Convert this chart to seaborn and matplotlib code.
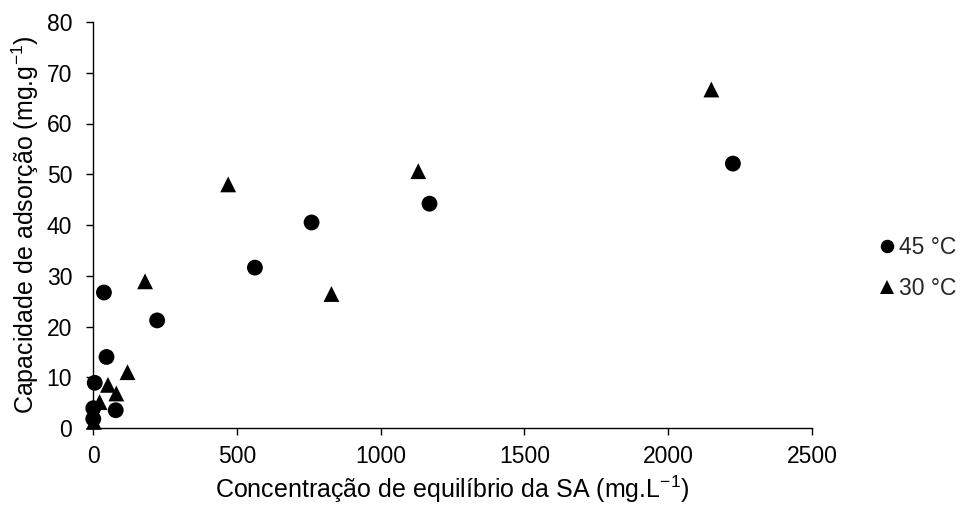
import numpy as np
import pandas as pd
import matplotlib
matplotlib.use("Agg")
import matplotlib.pyplot as plt
import seaborn as sns

# Data
x_45 = [38, 223, 47, 6, 1, 1, 79, 563, 760, 1170, 2225]
y_45 = [26.7, 21.2, 14.0, 8.9, 3.9, 1.8, 3.5, 31.6, 40.5, 44.2, 52.1]
x_30 = [470, 1131, 181, 829, 120, 52, 81, 23, 3, 2150]
y_30 = [48.0, 50.6, 28.9, 26.4, 11.0, 8.5, 6.8, 5.1, 1.2, 66.7]
series_labels = ["45 °C", "30 °C"]
x_ticks = [0, 500, 1000, 1500, 2000, 2500]
y_ticks = [0, 10, 20, 30, 40, 50, 60, 70, 80]

df = pd.DataFrame({
    "x": x_45 + x_30,
    "y": y_45 + y_30,
    "serie": [series_labels[0]] * len(x_45) + [series_labels[1]] * len(x_30),
})

sns.set_theme(style="white")
plt.rcParams["font.family"] = ["Liberation Sans", "DejaVu Sans"]
plt.rcParams["mathtext.fontset"] = "custom"
plt.rcParams["mathtext.rm"] = "Liberation Sans"
plt.rcParams["mathtext.it"] = "Liberation Sans"

fig = plt.figure(figsize=(9.6, 5.08), dpi=100)
ax = fig.add_axes([93 / 960, 1 - 428 / 508, (812 - 93) / 960, (428 - 22) / 508])

sns.scatterplot(data=df, x="x", y="y", hue="serie", style="serie",
                hue_order=series_labels, style_order=series_labels,
                palette=["black", "black"], markers={"45 °C": "o", "30 °C": "^"},
                s=130, edgecolor="none", linewidth=0, ax=ax, legend=True, clip_on=False)

ax.set_xlim(0, 2500)
ax.set_ylim(0, 80)
ax.set_xticks(x_ticks)
ax.set_yticks(y_ticks)
for sp in ["top", "right"]:
    ax.spines[sp].set_visible(False)
for sp in ["left", "bottom"]:
    ax.spines[sp].set_color("black")
    ax.spines[sp].set_linewidth(1.0)
ax.tick_params(axis="both", direction="out", length=5, width=1.0, color="black",
               labelsize=16.5, labelcolor="black")
ax.tick_params(axis="x", pad=7)
ax.tick_params(axis="y", pad=10)
ax.tick_params(axis="both", which="both", bottom=True, left=True)

ax.set_xlabel(r"Concentração de equilíbrio da SA (mg.L$^{-1}$)", fontsize=18, color="black", labelpad=4)
ax.set_ylabel(r"Capacidade de adsorção (mg.g$^{-1}$)", fontsize=18, color="black", labelpad=4)

handles, labels = ax.get_legend_handles_labels()
ax.legend(handles=handles, labels=labels, loc="center left",
          bbox_to_anchor=(876 / 960, 1 - 268 / 508), bbox_transform=fig.transFigure,
          frameon=False, fontsize=16.5, handletextpad=0.0, labelspacing=0.75,
          markerscale=0.85, borderaxespad=0, borderpad=0, handlelength=1.0)

fig.savefig("out.png", dpi=100, facecolor="white")
